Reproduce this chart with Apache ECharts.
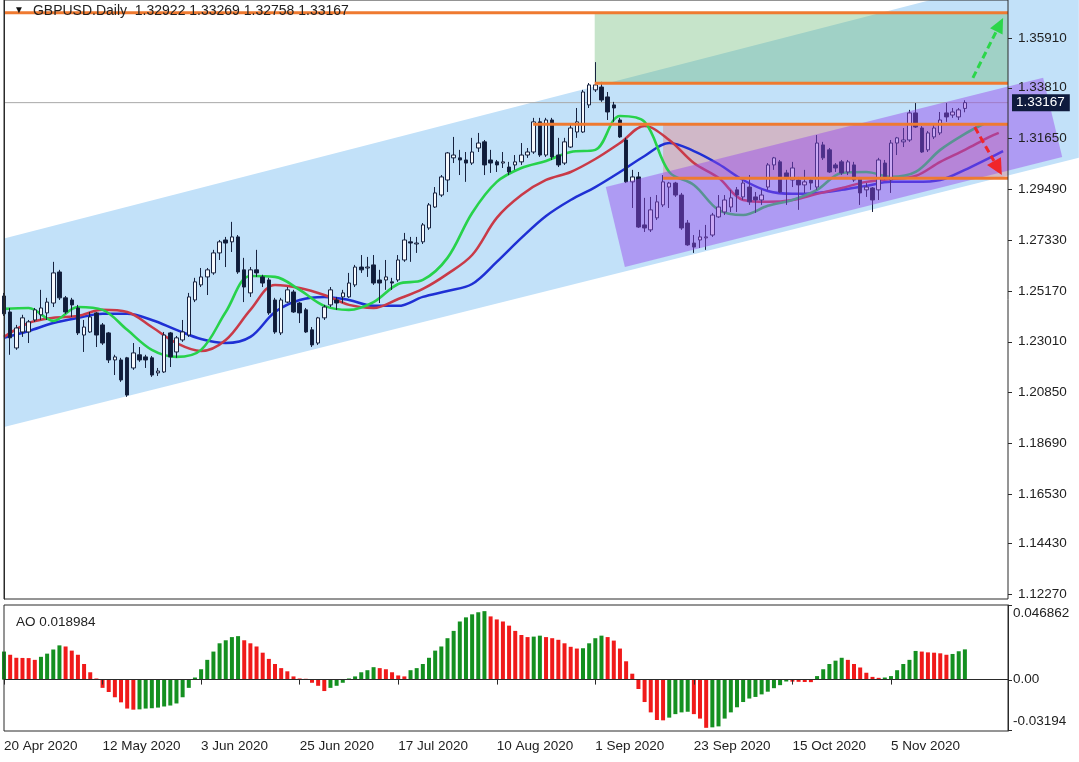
<!DOCTYPE html>
<html>
<head>
<meta charset="utf-8">
<title>GBPUSD Daily</title>
<script src="https://cdn.jsdelivr.net/npm/echarts@6.0.0/dist/echarts.min.js"></script>
<style>
html,body{margin:0;padding:0;background:#fff;overflow:hidden;}
#chart{width:1079px;height:762px;}
</style>
</head>
<body>
<div id="chart"></div>
<script>
// ---------------- data ----------------
const symbolName = 'GBPUSD.Daily';
const lastOHLC = ['1.32922', '1.33269', '1.32758', '1.33167'];
const lastPrice = 1.33167;
const aoName = 'AO';
const aoLastText = '0.018984';

const xTickLabels = ['20 Apr 2020', '12 May 2020', '3 Jun 2020', '25 Jun 2020', '17 Jul 2020', '10 Aug 2020', '1 Sep 2020', '23 Sep 2020', '15 Oct 2020', '5 Nov 2020'];
const xTickBars = [0, 16, 32, 48, 64, 80, 96, 112, 128, 144];
const priceTicks = [1.35910, 1.33810, 1.31650, 1.29490, 1.27330, 1.25170, 1.23010, 1.20850, 1.18690, 1.16530, 1.14430, 1.12270];
const aoTicks = [0.046862, 0, -0.03194];
const aoTickLabels = ['0.046862', '0.00', '-0.03194'];

// daily bars: [open, close, low, high]
const candles = [
[1.2495,1.2419,1.2410,1.2508],[1.2427,1.2317,1.2245,1.2444],[1.2274,1.2359,1.2266,1.2372],[1.2342,1.2402,1.2321,1.2415],
[1.2342,1.2385,1.2295,1.2393],[1.2393,1.2436,1.2385,1.2444],[1.2415,1.2444,1.2393,1.2521],[1.2423,1.2469,1.2393,1.2487],
[1.2465,1.2593,1.2448,1.2640],[1.2597,1.2487,1.2478,1.2606],[1.2487,1.2427,1.2419,1.2495],[1.2478,1.2457,1.2406,1.2487],
[1.2444,1.2338,1.2329,1.2457],[1.2329,1.2363,1.2257,1.2393],[1.2342,1.2406,1.2338,1.2427],[1.2423,1.2329,1.2278,1.2427],
[1.2372,1.2295,1.2287,1.2380],[1.2338,1.2223,1.2210,1.2342],[1.2223,1.2236,1.2159,1.2245],[1.2223,1.2138,1.2130,1.2232],
[1.2232,1.2074,1.2066,1.2236],[1.2189,1.2253,1.2181,1.2295],[1.2245,1.2223,1.2215,1.2278],[1.2236,1.2223,1.2189,1.2245],
[1.2232,1.2159,1.2151,1.2240],[1.2168,1.2176,1.2155,1.2189],[1.2172,1.2329,1.2168,1.2342],[1.2338,1.2236,1.2193,1.2342],
[1.2257,1.2317,1.2232,1.2325],[1.2308,1.2342,1.2300,1.2393],[1.2329,1.2491,1.2321,1.2508],[1.2478,1.2555,1.2469,1.2572],
[1.2542,1.2576,1.2533,1.2614],[1.2576,1.2606,1.2499,1.2614],[1.2593,1.2678,1.2585,1.2691],[1.2678,1.2725,1.2648,1.2733],
[1.2733,1.2720,1.2618,1.2746],[1.2725,1.2746,1.2682,1.2810],[1.2746,1.2597,1.2589,1.2754],[1.2606,1.2533,1.2469,1.2657],
[1.2508,1.2606,1.2491,1.2618],[1.2606,1.2593,1.2576,1.2691],[1.2576,1.2550,1.2533,1.2585],[1.2563,1.2423,1.2415,1.2572],
[1.2478,1.2342,1.2334,1.2487],[1.2338,1.2478,1.2329,1.2487],[1.2469,1.2521,1.2465,1.2533],[1.2512,1.2427,1.2423,1.2521],
[1.2465,1.2423,1.2380,1.2469],[1.2436,1.2342,1.2338,1.2444],[1.2351,1.2287,1.2278,1.2363],[1.2295,1.2402,1.2287,1.2406],
[1.2402,1.2448,1.2393,1.2457],[1.2457,1.2521,1.2448,1.2533],[1.2478,1.2465,1.2436,1.2491],[1.2491,1.2508,1.2465,1.2521],
[1.2491,1.2550,1.2487,1.2593],[1.2542,1.2618,1.2533,1.2627],[1.2618,1.2606,1.2593,1.2669],[1.2614,1.2618,1.2576,1.2661],
[1.2627,1.2550,1.2542,1.2669],[1.2563,1.2550,1.2465,1.2606],[1.2563,1.2576,1.2521,1.2648],[1.2555,1.2550,1.2521,1.2572],
[1.2563,1.2648,1.2555,1.2669],[1.2648,1.2733,1.2640,1.2763],[1.2725,1.2720,1.2640,1.2746],[1.2716,1.2720,1.2678,1.2746],
[1.2725,1.2797,1.2716,1.2805],[1.2784,1.2882,1.2776,1.2890],[1.2873,1.2933,1.2869,1.2958],[1.2924,1.3001,1.2916,1.3009],
[1.2988,1.3103,1.2937,1.3107],[1.3082,1.3094,1.3060,1.3171],[1.3082,1.3073,1.3009,1.3116],[1.3073,1.3060,1.2980,1.3107],
[1.3060,1.3107,1.3052,1.3167],[1.3124,1.3145,1.3107,1.3188],[1.3150,1.3052,1.3009,1.3158],[1.3073,1.3060,1.3018,1.3116],
[1.3065,1.3052,1.3022,1.3073],[1.3060,1.3065,1.3039,1.3107],[1.3043,1.3022,1.3009,1.3065],[1.3052,1.3065,1.3031,1.3094],
[1.3065,1.3094,1.3052,1.3145],[1.3094,1.3107,1.3082,1.3124],[1.3107,1.3235,1.3099,1.3252],[1.3235,1.3094,1.3086,1.3252],
[1.3094,1.3243,1.3086,1.3252],[1.3243,1.3086,1.3073,1.3252],[1.3094,1.3052,1.3043,1.3167],[1.3060,1.3150,1.3052,1.3167],
[1.3128,1.3209,1.3124,1.3222],[1.3192,1.3235,1.3167,1.3294],[1.3192,1.3362,1.3188,1.3371],[1.3307,1.3392,1.3294,1.3400],
[1.3371,1.3392,1.3362,1.3489],[1.3383,1.3328,1.3320,1.3405],[1.3341,1.3277,1.3243,1.3362],[1.3307,1.3294,1.3235,1.3320],
[1.3243,1.3171,1.3167,1.3252],[1.3158,1.2980,1.2975,1.3167],[1.2980,1.3001,1.2869,1.3031],[1.3001,1.2788,1.2784,1.3022],
[1.2797,1.2784,1.2767,1.2912],[1.2776,1.2861,1.2767,1.2916],[1.2827,1.2895,1.2818,1.2924],[1.2882,1.2980,1.2873,1.3009],
[1.2958,1.2975,1.2869,1.2980],[1.2975,1.2924,1.2916,1.2980],[1.2924,1.2784,1.2776,1.2933],[1.2805,1.2712,1.2708,1.2818],
[1.2720,1.2703,1.2678,1.2754],[1.2733,1.2746,1.2699,1.2776],[1.2742,1.2746,1.2691,1.2797],[1.2754,1.2839,1.2746,1.2848],
[1.2831,1.2873,1.2827,1.2924],[1.2852,1.2903,1.2839,1.2924],[1.2873,1.2912,1.2852,1.2946],[1.2946,1.2924,1.2852,1.2958],
[1.2916,1.2975,1.2903,1.2988],[1.2958,1.2895,1.2882,1.3009],[1.2916,1.2903,1.2848,1.2937],[1.2903,1.2924,1.2882,1.2946],
[1.2958,1.3052,1.2946,1.3060],[1.3052,1.3082,1.3031,1.3086],[1.3065,1.2937,1.2933,1.3073],[1.3018,1.3001,1.2882,1.3031],
[1.2988,1.3039,1.2958,1.3065],[1.2988,1.2967,1.2861,1.3001],[1.2967,1.2980,1.2933,1.3031],[1.2988,1.2975,1.2946,1.2997],
[1.2958,1.3145,1.2946,1.3179],[1.3137,1.3082,1.3073,1.3150],[1.3116,1.3022,1.3018,1.3124],[1.3052,1.3039,1.3022,1.3060],
[1.3065,1.3018,1.3009,1.3073],[1.3022,1.3065,1.3009,1.3073],[1.3052,1.2988,1.2980,1.3065],[1.2997,1.2933,1.2882,1.3001],
[1.2946,1.2958,1.2916,1.2975],[1.2954,1.2903,1.2852,1.2958],[1.2946,1.3073,1.2903,1.3082],[1.3060,1.2997,1.2988,1.3073],
[1.2988,1.3145,1.2933,1.3158],[1.3145,1.3167,1.3094,1.3171],[1.3150,1.3158,1.3128,1.3209],[1.3158,1.3273,1.3150,1.3286],
[1.3273,1.3213,1.3209,1.3315],[1.3209,1.3107,1.3103,1.3217],[1.3116,1.3188,1.3107,1.3196],[1.3171,1.3209,1.3162,1.3222],
[1.3188,1.3243,1.3179,1.3277],[1.3273,1.3256,1.3235,1.3315],[1.3264,1.3277,1.3252,1.3294],[1.3256,1.3286,1.3243,1.3294],
[1.32922,1.33167,1.32758,1.33269]
];

// Awesome Oscillator, one value per bar
const ao = [
0.0176,0.0156,0.0137,0.0136,0.0135,0.0124,0.0143,0.0163,0.0189,0.0215,
0.0208,0.0182,0.0156,0.0098,0.0046,0.0007,-0.0052,-0.0078,-0.0111,-0.0143,
-0.0182,-0.0189,-0.0187,-0.0182,-0.0180,-0.0176,-0.0169,-0.0163,-0.0150,-0.0111,
-0.0052,0.0013,0.0065,0.0124,0.0176,0.0228,0.0247,0.0267,0.0273,0.0247,
0.0228,0.0208,0.0169,0.0130,0.0098,0.0072,0.0052,0.0020,0.0007,0.0005,
-0.0020,-0.0039,-0.0072,-0.0052,-0.0039,-0.0020,0.0007,0.0020,0.0046,0.0059,
0.0078,0.0072,0.0065,0.0046,0.0026,0.0020,0.0059,0.0072,0.0098,0.0137,
0.0182,0.0208,0.0260,0.0306,0.0365,0.0391,0.0410,0.0423,0.0430,0.0397,
0.0378,0.0365,0.0339,0.0306,0.0280,0.0267,0.0270,0.0276,0.0267,0.0260,
0.0250,0.0228,0.0206,0.0195,0.0197,0.0228,0.0260,0.0276,0.0267,0.0245,
0.0195,0.0115,0.0037,-0.0059,-0.0141,-0.0206,-0.0254,-0.0256,-0.0239,-0.0217,
-0.0206,-0.0202,-0.0217,-0.0245,-0.0303,-0.0300,-0.0294,-0.0245,-0.0206,-0.0174,
-0.0141,-0.0119,-0.0109,-0.0093,-0.0076,-0.0054,-0.0035,-0.0012,-0.0013,-0.0014,
-0.0015,-0.0016,0.0022,0.0065,0.0098,0.0119,0.0137,0.0124,0.0098,0.0076,
0.0043,0.0017,0.0011,0.0013,0.0022,0.0059,0.0098,0.0124,0.0180,0.0176,
0.0171,0.0169,0.0165,0.0156,0.0161,0.0178,0.018984
];

// Alligator lines, [bar position, price]
const lips = [[0,1.2440],[4,1.2444],[8,1.2389],[12,1.2448],[16,1.2436],[20,1.2351],[24,1.2266],[28,1.2236],[32,1.2266],[36,1.2427],[40,1.2580],[44,1.2576],[48,1.2521],[52,1.2453],[56,1.2436],[60,1.2469],[64,1.2546],[68,1.2563],[72,1.2657],[76,1.2848],[80,1.2980],[84,1.3039],[88,1.3069],[92,1.3107],[96,1.3116],[100,1.3260],[104,1.3235],[108,1.3022],[112,1.2967],[116,1.2861],[120,1.2839],[124,1.2878],[128,1.2903],[132,1.2946],[136,1.3018],[140,1.3022],[144,1.3001],[148,1.3022],[152,1.3116],[156,1.3184],[159,1.3226]];
const teeth = [[0,1.2321],[4,1.2380],[8,1.2402],[12,1.2410],[16,1.2436],[20,1.2427],[24,1.2363],[28,1.2295],[32,1.2261],[36,1.2308],[40,1.2436],[44,1.2542],[48,1.2529],[52,1.2499],[56,1.2457],[60,1.2444],[64,1.2482],[68,1.2525],[72,1.2589],[76,1.2669],[80,1.2827],[84,1.2924],[88,1.2988],[92,1.3022],[96,1.3077],[100,1.3145],[104,1.3217],[108,1.3158],[112,1.3060],[116,1.2997],[120,1.2903],[124,1.2895],[128,1.2903],[132,1.2929],[136,1.2954],[140,1.2980],[144,1.2992],[148,1.3005],[152,1.3065],[156,1.3116],[160,1.3171],[161.5,1.3188]];
const jaw = [[0,1.2317],[4,1.2346],[8,1.2380],[12,1.2402],[16,1.2419],[20,1.2419],[24,1.2393],[28,1.2351],[32,1.2312],[36,1.2295],[40,1.2321],[44,1.2427],[48,1.2478],[52,1.2491],[56,1.2478],[60,1.2453],[64,1.2453],[68,1.2491],[72,1.2516],[76,1.2546],[80,1.2640],[84,1.2742],[88,1.2835],[92,1.2903],[96,1.2958],[100,1.3022],[104,1.3090],[108,1.3145],[112,1.3111],[116,1.3056],[120,1.2988],[124,1.2941],[128,1.2929],[132,1.2933],[136,1.2946],[140,1.2963],[144,1.2980],[148,1.2980],[152,1.2988],[156,1.3031],[160,1.3082],[162.2,1.3111]];

// drawn objects, [bar position, price]
const levels = [[0,1.3699],[95.9,1.3399],[85.9,1.3225],[107,1.2995]];
const targetZone = [[95.9,1.3399],[163,1.3699]];
const rangeZone = [[107,1.2995],[163,1.3225]];
const mainChannel = [[0,1.2739],[174.5,1.3915],[174.5,1.3082],[0,1.1938]];
const innerChannel = [[97.7,1.2958],[168.7,1.3422],[171.8,1.3086],[100.8,1.2618]];
const arrowUp = [[157.3,1.3422],[162.2,1.3677]];
const arrowDown = [[157.6,1.3213],[162.0,1.3009]];

// ---------------- chart ----------------
const FONT = '"Liberation Sans", Arial, sans-serif';
const TEXT = '#222222';
const LINE = '#2a2a2a';
const slotCount = 164;
const slots = Array.from({length: slotCount}, (_, i) => String(i));
const priceMin = 1.1207, priceMax = 1.3753;
const aoMin = -0.0323, aoMax = 0.046862;

function overlay(z, build, xAxisIndex, yAxisIndex, y0) {
  return {
    type: 'custom', xAxisIndex: xAxisIndex == null ? 1 : xAxisIndex, yAxisIndex: yAxisIndex || 0, z: z, silent: true, clip: false,
    data: [[0, y0 == null ? priceMin : y0]],
    renderItem: (params, api) => build(api)
  };
}
function polygonOf(pts, fill) {
  return api => ({ type: 'polygon', shape: { points: pts.map(p => api.coord(p)) }, style: { fill: fill } });
}
function zoneOf(z2, fill) {
  return api => {
    const a = api.coord(z2[0]), b = api.coord(z2[1]);
    return { type: 'rect', shape: { x: a[0], y: b[1], width: b[0] - a[0], height: a[1] - b[1] }, style: { fill: fill } };
  };
}
function arrowOf(pts, color, headL, headW) {
  return api => {
    const a = api.coord(pts[0]), b = api.coord(pts[1]);
    const dx = b[0] - a[0], dy = b[1] - a[1], len = Math.hypot(dx, dy);
    const ux = dx / len, uy = dy / len;
    const base = [b[0] - ux * headL, b[1] - uy * headL];
    const l = [base[0] - uy * headW, base[1] + ux * headW];
    const r = [base[0] + uy * headW, base[1] - ux * headW];
    return { type: 'group', children: [
      { type: 'line', shape: { x1: a[0], y1: a[1], x2: base[0], y2: base[1] }, style: { stroke: color, lineWidth: 3, lineDash: [7, 4] } },
      { type: 'polygon', shape: { points: [b, l, r] }, style: { fill: color } }
    ]};
  };
}
function ticksOf(values, lastSlot) {
  return api => ({ type: 'group', children: values.map(v => {
    const p = api.coord([lastSlot, v]);
    const y = Math.round(p[1]) + 0.5;
    return { type: 'line', shape: { x1: p[0], y1: y, x2: p[0] + 4, y2: y }, style: { stroke: LINE, lineWidth: 1 } };
  }) });
}

const chart = echarts.init(document.getElementById('chart'), null, { renderer: 'canvas' });
const option = {
  animation: false,
  backgroundColor: '#ffffff',
  title: [
    {
      text: '{tri|▼}{txt|' + symbolName + '  ' + lastOHLC.join(' ') + '}',
      left: 9, top: -1, z: 12,
      textStyle: { fontFamily: FONT, fontSize: 14, fontWeight: 'normal', color: TEXT,
        rich: { tri: { fontSize: 10, color: '#111', padding: [0, 9, 2, 0] }, txt: { fontFamily: FONT, fontSize: 14, color: TEXT } } }
    },
    {
      text: aoName + ' ' + aoLastText, left: 11, top: 610,
      textStyle: { fontFamily: FONT, fontSize: 13.5, fontWeight: 'normal', color: TEXT }
    }
  ],
  grid: [
    { left: 4, right: 71, top: 0, height: 599, show: true, borderColor: LINE, borderWidth: 1, backgroundColor: 'transparent', z: 8, outerBoundsMode: 'none', containLabel: false },
    { left: 4, right: 71, top: 605, height: 126, show: true, borderColor: LINE, borderWidth: 1, backgroundColor: 'transparent', z: 8, outerBoundsMode: 'none', containLabel: false }
  ],
  xAxis: [
    { type: 'category', gridIndex: 0, data: slots, boundaryGap: false, show: false },
    { type: 'value', gridIndex: 0, min: 0, max: slotCount - 1, show: false },
    { type: 'category', gridIndex: 1, data: slots, boundaryGap: false, position: 'bottom', z: 10,
      axisLine: { show: true, lineStyle: { color: LINE } },
      axisTick: { show: true, interval: i => xTickBars.includes(i), length: 5, lineStyle: { color: LINE } },
      axisLabel: { interval: i => xTickBars.includes(i), align: 'left', margin: 8, color: TEXT, fontFamily: FONT, fontSize: 13.5,
        formatter: v => { const k = xTickBars.indexOf(+v); return k >= 0 ? xTickLabels[k] : ''; } },
      splitLine: { show: false } }
  ],
  yAxis: [
    { type: 'value', gridIndex: 0, position: 'right', min: priceMin, max: priceMax, z: 10,
      axisLine: { show: true, lineStyle: { color: LINE } },
      axisTick: { show: false },
      axisLabel: { customValues: priceTicks, formatter: v => v.toFixed(5), margin: 10, color: TEXT, fontFamily: FONT, fontSize: 13.5 },
      splitLine: { show: false } },
    { type: 'value', gridIndex: 1, position: 'right', min: aoMin, max: aoMax, z: 10,
      axisLine: { show: true, lineStyle: { color: LINE } },
      axisTick: { show: false },
      axisLabel: { customValues: aoTicks, margin: 5, color: TEXT, fontFamily: FONT, fontSize: 13.5,
        formatter: v => {
          let k = 0, d = Infinity;
          aoTicks.forEach((t, j) => { const e = Math.abs(t - v); if (e < d) { d = e; k = j; } });
          const s = k === 0 ? 'top' : (k === aoTicks.length - 1 ? 'bot' : 'mid');
          return '{' + s + '|' + aoTickLabels[k] + '}';
        },
        rich: {
          top: { fontFamily: FONT, fontSize: 13.5, color: TEXT, padding: [17, 0, 0, 0] },
          mid: { fontFamily: FONT, fontSize: 13.5, color: TEXT },
          bot: { fontFamily: FONT, fontSize: 13.5, color: TEXT, padding: [0, 0, 18, 0] }
        } },
      splitLine: { show: false } }
  ],
  series: [
    overlay(1, polygonOf(mainChannel, '#c2e1f9')),
    overlay(1, zoneOf(targetZone, 'rgba(105,185,115,0.38)')),
    overlay(1, zoneOf(rangeZone, 'rgba(235,110,110,0.35)')),
    overlay(2, api => {
      const a = api.coord([0, lastPrice]), b = api.coord([slotCount - 1, lastPrice]);
      return { type: 'line', shape: { x1: a[0], y1: a[1], x2: b[0], y2: b[1] }, style: { stroke: '#a9a9a9', lineWidth: 1 } };
    }),
    { type: 'line', name: 'Jaw', xAxisIndex: 1, yAxisIndex: 0, data: jaw, z: 3, showSymbol: false, smooth: 0.35, silent: true,
      lineStyle: { color: '#1f30d4', width: 2.5 } },
    { type: 'line', name: 'Teeth', xAxisIndex: 1, yAxisIndex: 0, data: teeth, z: 3, showSymbol: false, smooth: 0.35, silent: true,
      lineStyle: { color: '#c93a48', width: 2.5 } },
    { type: 'line', name: 'Lips', xAxisIndex: 1, yAxisIndex: 0, data: lips, z: 3, showSymbol: false, smooth: 0.35, silent: true,
      lineStyle: { color: '#27d24b', width: 2.6 } },
    { type: 'candlestick', name: symbolName, xAxisIndex: 0, yAxisIndex: 0, data: candles, z: 4, barWidth: 4, silent: true,
      itemStyle: { color: '#f6f9fc', color0: '#0e1c3a', borderColor: '#17223f', borderColor0: '#17223f', borderWidth: 1 } },
    overlay(5, polygonOf(innerChannel, 'rgba(150,70,235,0.45)')),
    overlay(6, api => ({ type: 'group', children: levels.map(l => {
      const a = api.coord(l), b = api.coord([slotCount - 1, l[1]]);
      return { type: 'line', shape: { x1: a[0], y1: a[1], x2: b[0], y2: a[1] }, style: { stroke: '#ef7a30', lineWidth: 3 } };
    }) })),
    overlay(7, arrowOf(arrowUp, '#2bd64a', 15, 7)),
    overlay(7, arrowOf(arrowDown, '#f0262a', 16, 8)),
    overlay(11, ticksOf(priceTicks, slotCount - 1)),
    overlay(11, ticksOf(aoTicks, slotCount - 1), 2, 1, 0),
    overlay(12, api => {
      const b = api.coord([slotCount - 1, lastPrice]);
      return { type: 'text', style: { text: lastPrice.toFixed(5), x: b[0] + 4, y: b[1], verticalAlign: 'middle', align: 'left',
        fill: '#ffffff', backgroundColor: '#0f1b3d', padding: [2, 5, 1, 4], font: '13.5px ' + FONT } };
    }),
    { type: 'bar', name: aoName, xAxisIndex: 2, yAxisIndex: 1, barWidth: 4, silent: true,
      data: ao.map((v, i) => ({ value: v, itemStyle: { color: (i === 0 || v > ao[i - 1]) ? '#149020' : '#f01a1a' } })) }
  ]
};
chart.setOption(option);
</script>
</body>
</html>
